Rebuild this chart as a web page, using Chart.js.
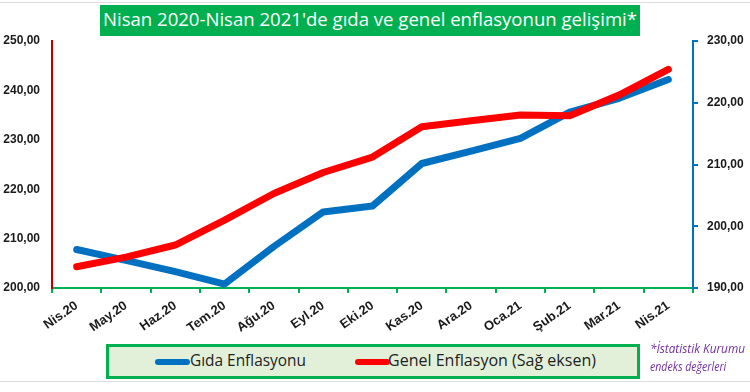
<!DOCTYPE html>
<html>
<head>
<meta charset="utf-8">
<script src="https://cdn.jsdelivr.net/npm/chart.js@4"></script>
<style>
  body { margin: 0; background: #fff; }
  #wrap { position: relative; width: 750px; height: 392px; overflow: hidden; font-family: "Open Sans", sans-serif; }
  #chart { position: absolute; left: 0; top: 0; }
  .frame { position: absolute; left: 0; width: 750px; height: 1px; background: #dcdcdc; }
  #title { position: absolute; left: 100px; top: 5px; width: 540px; height: 31px; background: #00b050; }
  #title span { position: absolute; left: 3px; top: 2px; color: #fff; font-size: 18px; white-space: nowrap; transform-origin: 0 0; }
  #legend { position: absolute; left: 106px; top: 344px; width: 528px; height: 29px; background: #e2f0d9; border: 3px solid #00b050; }
  .item { position: absolute; top: 0; height: 29px; }
  .swatch { position: absolute; top: 12px; height: 6px; width: 35px; border-radius: 3px; }
  .item span { position: absolute; top: 2px; font-size: 15.5px; color: #222; white-space: nowrap; transform-origin: 0 0; }
  #note { position: absolute; left: 650px; top: 340px; color: #7030a0; font-style: italic; font-size: 12.5px; line-height: 18px; }
  #note span { display: block; white-space: nowrap; transform-origin: 0 0; }
</style>
</head>
<body>
<div id="wrap">
  <canvas id="chart" width="750" height="392"></canvas>
  <div class="frame" style="top:2px"></div>
  <div class="frame" style="top:381px"></div>
  <div id="title"><span id="titleText">Nisan 2020-Nisan 2021'de gıda ve genel enflasyonun gelişimi*</span></div>
  <div id="legend"></div>
  <div id="note"><span id="n1">*İstatistik Kurumu</span><span id="n2">endeks değerleri</span></div>
</div>
<script>
const months = ['Nis.20', 'May.20', 'Haz.20', 'Tem.20', 'Ağu.20', 'Eyl.20', 'Eki.20',
  'Kas.20', 'Ara.20', 'Oca.21', 'Şub.21', 'Mar.21', 'Nis.21'];
// gıda endeksi (sol eksen)
const gida = [207.8, 205.6, 203.3, 200.8, 208.4, 215.4, 216.6, 225.2, 227.7, 230.3, 235.6, 238.4, 242.2];
// genel endeks (sağ eksen)
const genel = [193.45, 195.0, 196.96, 201.0, 205.3, 208.7, 211.2, 216.1, 217.1, 218.0, 217.9, 221.25, 225.4];
const leftTicks = [200, 250, 10];
const rightTicks = [190, 230, 10];

const BLUE = '#0070c0', RED = '#ff0000', GREEN = '#00b050';

function fmt(v) { return v.toFixed(2).replace('.', ','); }

function fitWidth(el, w) {
  const cur = el.getBoundingClientRect().width;
  if (cur > 0) el.style.transform = 'scaleX(' + (w / cur) + ')';
}

const tickFont = { family: '"Liberation Sans", Arial, sans-serif', size: 12, weight: 'bold' };
const xFont = { family: '"Liberation Sans", Arial, sans-serif', size: 13, weight: 'bold' };

const chart = new Chart(document.getElementById('chart'), {
  type: 'line',
  data: {
    labels: months,
    datasets: [
      { label: 'Gıda Enflasyonu', data: gida, yAxisID: 'y', borderColor: BLUE, order: 1 },
      { label: 'Genel Enflasyon (Sağ eksen)', data: genel, yAxisID: 'y2', borderColor: RED, order: 0 }
    ]
  },
  options: {
    responsive: false,
    animation: false,
    layout: { padding: { top: 41, left: 0, right: 0, bottom: 0 } },
    elements: {
      line: { borderWidth: 7, tension: 0, borderCapStyle: 'round', borderJoinStyle: 'round' },
      point: { radius: 0, hoverRadius: 0 }
    },
    plugins: { legend: { display: false }, title: { display: false }, tooltip: { enabled: false } },
    scales: {
      x: {
        offset: true,
        grid: { offset: true, drawOnChartArea: false, drawTicks: true, tickLength: 5, color: GREEN, lineWidth: 2 },
        border: { display: true, color: GREEN, width: 2 },
        ticks: { color: '#1a1a1a', font: xFont, minRotation: 35, maxRotation: 35, padding: 5, autoSkip: false },
        afterFit: s => { s.height = 104; }
      },
      y: {
        position: 'left',
        min: leftTicks[0], max: leftTicks[1],
        grid: { drawOnChartArea: false, drawTicks: false, color: 'rgba(0,0,0,0)' },
        border: { display: true, color: '#c00000', width: 2 },
        ticks: { stepSize: leftTicks[2], color: '#1a1a1a', font: tickFont, padding: 12, callback: v => fmt(v) },
        afterFit: s => { s.width = 52; }
      },
      y2: {
        position: 'right',
        min: rightTicks[0], max: rightTicks[1],
        grid: { drawOnChartArea: false, drawTicks: true, tickLength: 5, color: BLUE, lineWidth: 2 },
        border: { display: true, color: BLUE, width: 2 },
        ticks: { stepSize: rightTicks[2], color: '#1a1a1a', font: tickFont, padding: 9, callback: v => fmt(v) },
        afterFit: s => { s.width = 57; }
      }
    }
  }
});

// legend built from the datasets
const legend = document.getElementById('legend');
const legendPos = [{ sw: 46, tx: 81, w: 116 }, { sw: 246, tx: 279, w: 208 }];
chart.data.datasets.forEach((ds, i) => {
  const item = document.createElement('div');
  item.className = 'item';
  item.innerHTML = '<div class="swatch" style="left:' + legendPos[i].sw + 'px;background:' + ds.borderColor +
    '"></div><span style="left:' + legendPos[i].tx + 'px">' + ds.label + '</span>';
  legend.appendChild(item);
  fitWidth(item.querySelector('span'), legendPos[i].w);
});

fitWidth(document.getElementById('titleText'), 534);
fitWidth(document.getElementById('n1'), 95);
fitWidth(document.getElementById('n2'), 85);
</script>
</body>
</html>
